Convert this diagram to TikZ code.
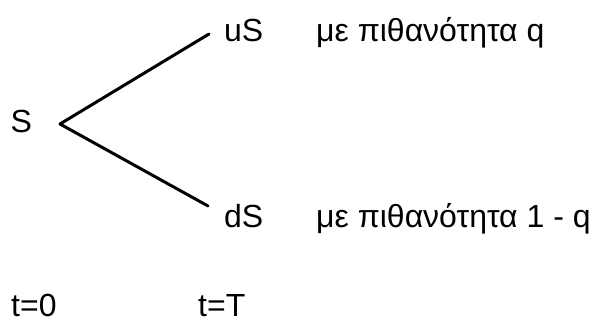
\documentclass[tikz,border=0pt]{standalone}
\usepackage{fontspec}
\setmainfont{Liberation Sans}
\tikzset{
  lbl/.style={anchor=base west, inner sep=0pt, font=\fontsize{32}{38}\selectfont},
  branch/.style={line width=3pt, line cap=round, line join=round}
}
\begin{document}
\begin{tikzpicture}[x=1pt, y=-1pt]
  \useasboundingbox[fill=white] (0,0) rectangle (596,320);
  % one-step binomial tree
  \coordinate (root) at (60,124);
  \coordinate (upend) at (209,34);
  \coordinate (dnend) at (208,206);
  \draw[branch] (upend) -- (root) -- (dnend);
  % node values
  \node[lbl] (s) at (10.5,133) {S};
  \node[lbl] (us) at (224,42) {uS};
  \node[lbl] (ds) at (224,227) {dS};
  % probabilities
  \node[lbl] (pu) at (316,42) {με πιθανότητα q};
  \node[lbl] (pd) at (316,227) {με πιθανότητα 1 - q};
  % time axis labels
  \node[lbl] (t0) at (11,316) {t=0};
  \node[lbl] (tT) at (198,316) {t=T};
\end{tikzpicture}
\end{document}
